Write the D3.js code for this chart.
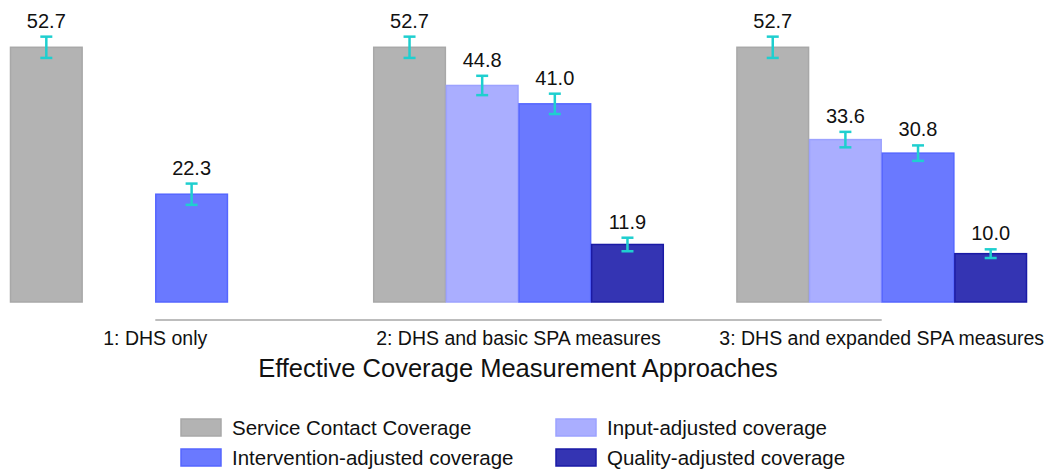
<!DOCTYPE html>
<html>
<head>
<meta charset="utf-8">
<script src="https://cdn.jsdelivr.net/npm/d3@7"></script>
<style>
  body { margin: 0; background: #fff; }
  svg { font-family: "Liberation Sans", Arial, sans-serif; }
</style>
</head>
<body>
<svg width="1056" height="470"></svg>
<script>
const groups = ['1: DHS only', '2: DHS and basic SPA measures', '3: DHS and expanded SPA measures'];
const series = ['Service Contact Coverage', 'Input-adjusted coverage', 'Intervention-adjusted coverage', 'Quality-adjusted coverage'];

// values per series, one entry per group (null = not measured)
const contactVals      = [52.7, 52.7, 52.7];
const inputVals        = [null, 44.8, 33.6];
const interventionVals = [22.3, 41.0, 30.8];
const qualityVals      = [null, 11.9, 10.0];

// half width of the error bars
const contactErr      = [2.2, 2.2, 2.2];
const inputErr        = [null, 2.0, 1.6];
const interventionErr = [2.2, 2.1, 1.6];
const qualityErr      = [null, 1.4, 0.9];

const fills   = ['#b3b3b3', '#aaaeff', '#6a79ff', '#3434b3'];
const strokes = ['#a8a8a8', '#9ca2ff', '#5566ff', '#1a1aa6'];

const allVals = [contactVals, inputVals, interventionVals, qualityVals];
const allErrs = [contactErr, inputErr, interventionErr, qualityErr];

const data = [];
groups.forEach((g, gi) => {
  series.forEach((s, si) => {
    if (allVals[si][gi] != null) {
      data.push({ group: g, series: s, si: si, value: allVals[si][gi], err: allErrs[si][gi] });
    }
  });
});

const svg = d3.select('svg');

const x0 = d3.scaleBand()
  .domain(groups)
  .range([10, 1027])
  .paddingInner(0.2);

const x1 = d3.scaleBand()
  .domain(series)
  .range([0, x0.bandwidth()]);

const y = d3.scaleLinear()
  .domain([0, 60])
  .range([302, 12]);

const bars = svg.append('g');

bars.selectAll('rect')
  .data(data)
  .join('rect')
    .attr('x', d => x0(d.group) + x1(d.series) + 0.5)
    .attr('y', d => y(d.value))
    .attr('width', x1.bandwidth() - 1)
    .attr('height', d => y(0) - y(d.value))
    .attr('fill', d => fills[d.si])
    .attr('stroke', d => strokes[d.si])
    .attr('stroke-width', 1.5);

// error bars
const cx = d => x0(d.group) + x1(d.series) + x1.bandwidth() / 2;
const eb = svg.append('g')
  .attr('stroke', '#1fcfcf')
  .attr('stroke-width', 2.5);

eb.selectAll('.stem')
  .data(data)
  .join('line')
    .attr('x1', cx).attr('x2', cx)
    .attr('y1', d => y(d.value + d.err))
    .attr('y2', d => y(d.value - d.err));

eb.selectAll('.capTop')
  .data(data)
  .join('line')
    .attr('x1', d => cx(d) - 6).attr('x2', d => cx(d) + 6)
    .attr('y1', d => y(d.value + d.err))
    .attr('y2', d => y(d.value + d.err));

eb.selectAll('.capBot')
  .data(data)
  .join('line')
    .attr('x1', d => cx(d) - 6).attr('x2', d => cx(d) + 6)
    .attr('y1', d => y(d.value - d.err))
    .attr('y2', d => y(d.value - d.err));

// value labels
svg.append('g').selectAll('text')
  .data(data)
  .join('text')
    .attr('x', cx)
    .attr('y', d => y(d.value + d.err) - 9)
    .attr('text-anchor', 'middle')
    .attr('font-size', 20)
    .attr('fill', '#111')
    .text(d => d.value.toFixed(1));

// x axis line between group centres and category labels
const xc = d3.scalePoint().domain(groups).range([x0(groups[0]) + x0.bandwidth() / 2, x0(groups[2]) + x0.bandwidth() / 2]);

svg.append('line')
  .attr('x1', xc(groups[0])).attr('x2', xc(groups[2]))
  .attr('y1', 320).attr('y2', 320)
  .attr('stroke', '#bdbdbd')
  .attr('stroke-width', 2);

svg.append('g').selectAll('text')
  .data(groups)
  .join('text')
    .attr('x', d => xc(d))
    .attr('y', 345)
    .attr('text-anchor', 'middle')
    .attr('font-size', 19.5)
    .attr('fill', '#111')
    .text(d => d);

svg.append('text')
  .attr('x', 518)
  .attr('y', 377)
  .attr('text-anchor', 'middle')
  .attr('font-size', 25.5)
  .attr('fill', '#111')
  .text('Effective Coverage Measurement Approaches');

// legend, two columns
const legendPos = [[181, 419], [556, 419], [181, 449], [556, 449]];
const legendOrder = [0, 1, 2, 3];
const lg = svg.append('g').selectAll('g')
  .data(legendOrder)
  .join('g')
    .attr('transform', (d, i) => 'translate(' + legendPos[i][0] + ',' + legendPos[i][1] + ')');

lg.append('rect')
  .attr('width', 40).attr('height', 17)
  .attr('fill', d => fills[d])
  .attr('stroke', d => strokes[d])
  .attr('stroke-width', 1.5);

lg.append('text')
  .attr('x', 51)
  .attr('y', 15.5)
  .attr('font-size', 20.5)
  .attr('fill', '#111')
  .text(d => series[d]);
</script>
</body>
</html>
